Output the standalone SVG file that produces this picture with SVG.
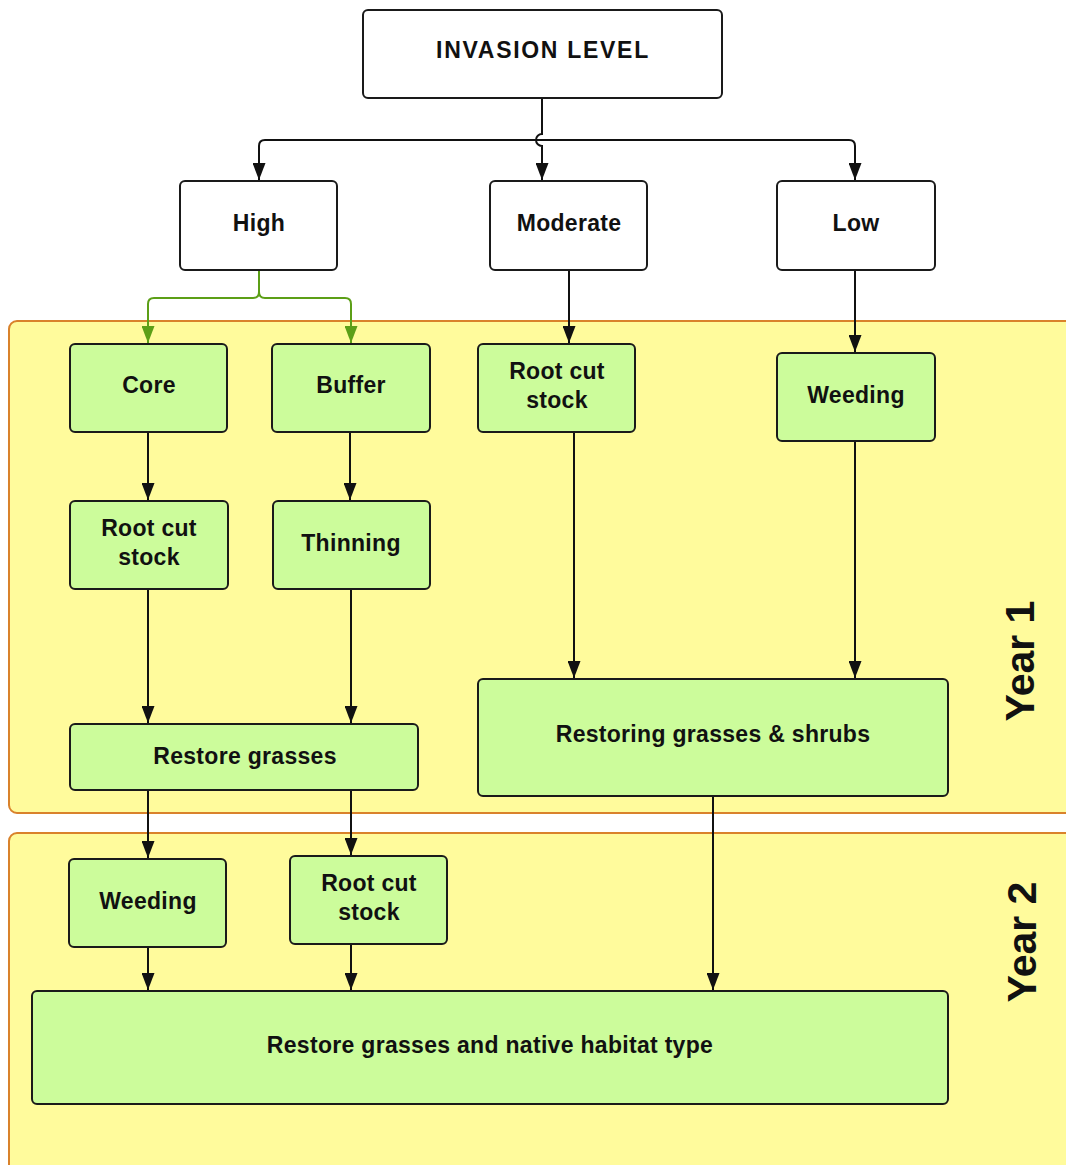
<svg xmlns="http://www.w3.org/2000/svg" width="1066" height="1165" viewBox="0 0 1066 1165">
<defs>
<style>
.panel{fill:#fffb9c;stroke:#d9822b;stroke-width:2}
.w{fill:#ffffff;stroke:#1a1a1a;stroke-width:2}
.g{fill:#ccfc9b;stroke:#1a1a1a;stroke-width:2}
.t{font-family:"Liberation Sans",Arial,sans-serif;font-weight:bold;font-size:23px;letter-spacing:0.3px;fill:#111;text-anchor:middle;dominant-baseline:central}
.yr{font-family:"Liberation Sans",Arial,sans-serif;font-weight:bold;font-size:41px;fill:#111;text-anchor:middle;dominant-baseline:central}
.c{fill:none;stroke:#111;stroke-width:2}
.cg{fill:none;stroke:#5c9f17;stroke-width:2}
</style>
<marker id="a" viewBox="0 0 10 10" refX="10" refY="5" markerWidth="17" markerHeight="13" markerUnits="userSpaceOnUse" orient="auto" preserveAspectRatio="none"><path d="M0,0 L10,5 L0,10 z" fill="#111"/></marker>
<marker id="ag" viewBox="0 0 10 10" refX="10" refY="5" markerWidth="17" markerHeight="13" markerUnits="userSpaceOnUse" orient="auto" preserveAspectRatio="none"><path d="M0,0 L10,5 L0,10 z" fill="#5c9f17"/></marker>
</defs>
<rect width="1066" height="1165" fill="#ffffff"/>
<g id="year1">
<rect class="panel" x="9" y="321" width="1070" height="492" rx="8"/>
<text class="yr" transform="translate(1020,661) rotate(-90)">Year 1</text>
</g>
<g id="year2">
<rect class="panel" x="9" y="833" width="1070" height="345" rx="8"/>
<text class="yr" transform="translate(1022,942) rotate(-90)">Year 2</text>
</g>
<g id="connectors">
<path class="c" d="M542,98 V134 A6,6 0 0 0 542,146 V180" marker-end="url(#a)"/>
<path class="c" d="M542,140 H265 Q259,140 259,146 V180" marker-end="url(#a)"/>
<path class="c" d="M542,140 H849 Q855,140 855,146 V180" marker-end="url(#a)"/>
<path class="cg" d="M259,270 V292 Q259,298 253,298 H154 Q148,298 148,304 V343" marker-end="url(#ag)"/>
<path class="cg" d="M259,292 Q259,298 265,298 H345 Q351,298 351,304 V343" marker-end="url(#ag)"/>
<path class="c" d="M569,270 V343" marker-end="url(#a)"/>
<path class="c" d="M855,270 V352" marker-end="url(#a)"/>
<path class="c" d="M148,432 V500" marker-end="url(#a)"/>
<path class="c" d="M350,432 V500" marker-end="url(#a)"/>
<path class="c" d="M148,589 V723" marker-end="url(#a)"/>
<path class="c" d="M351,589 V723" marker-end="url(#a)"/>
<path class="c" d="M574,432 V678" marker-end="url(#a)"/>
<path class="c" d="M855,441 V678" marker-end="url(#a)"/>
<path class="c" d="M148,790 V858" marker-end="url(#a)"/>
<path class="c" d="M351,790 V855" marker-end="url(#a)"/>
<path class="c" d="M148,947 V990" marker-end="url(#a)"/>
<path class="c" d="M351,944 V990" marker-end="url(#a)"/>
<path class="c" d="M713,796 V990" marker-end="url(#a)"/>
</g>
<g id="invasion"><rect class="w" x="363" y="10" width="359" height="88" rx="5"/><text class="t" x="543" y="50" style="letter-spacing:1.7px">INVASION LEVEL</text></g>
<g id="high"><rect class="w" x="180" y="181" width="157" height="89" rx="5"/><text class="t" x="259" y="223">High</text></g>
<g id="moderate"><rect class="w" x="490" y="181" width="157" height="89" rx="5"/><text class="t" x="569" y="223">Moderate</text></g>
<g id="low"><rect class="w" x="777" y="181" width="158" height="89" rx="5"/><text class="t" x="856" y="223">Low</text></g>
<g id="core"><rect class="g" x="70" y="344" width="157" height="88" rx="5"/><text class="t" x="149" y="385">Core</text></g>
<g id="buffer"><rect class="g" x="272" y="344" width="158" height="88" rx="5"/><text class="t" x="351" y="385">Buffer</text></g>
<g id="rootcut-mod"><rect class="g" x="478" y="344" width="157" height="88" rx="5"/><text class="t" x="557" y="371">Root cut</text><text class="t" x="557" y="400">stock</text></g>
<g id="weeding-low"><rect class="g" x="777" y="353" width="158" height="88" rx="5"/><text class="t" x="856" y="395">Weeding</text></g>
<g id="rootcut-core"><rect class="g" x="70" y="501" width="158" height="88" rx="5"/><text class="t" x="149" y="528">Root cut</text><text class="t" x="149" y="557">stock</text></g>
<g id="thinning"><rect class="g" x="273" y="501" width="157" height="88" rx="5"/><text class="t" x="351" y="543">Thinning</text></g>
<g id="restore-grasses"><rect class="g" x="70" y="724" width="348" height="66" rx="5"/><text class="t" x="245" y="756">Restore grasses</text></g>
<g id="restoring-shrubs"><rect class="g" x="478" y="679" width="470" height="117" rx="5"/><text class="t" x="713" y="734">Restoring grasses &amp; shrubs</text></g>
<g id="weeding-y2"><rect class="g" x="69" y="859" width="157" height="88" rx="5"/><text class="t" x="148" y="901">Weeding</text></g>
<g id="rootcut-y2"><rect class="g" x="290" y="856" width="157" height="88" rx="5"/><text class="t" x="369" y="883">Root cut</text><text class="t" x="369" y="912">stock</text></g>
<g id="restore-native"><rect class="g" x="32" y="991" width="916" height="113" rx="5"/><text class="t" x="490" y="1045">Restore grasses and native habitat type</text></g>
</svg>
